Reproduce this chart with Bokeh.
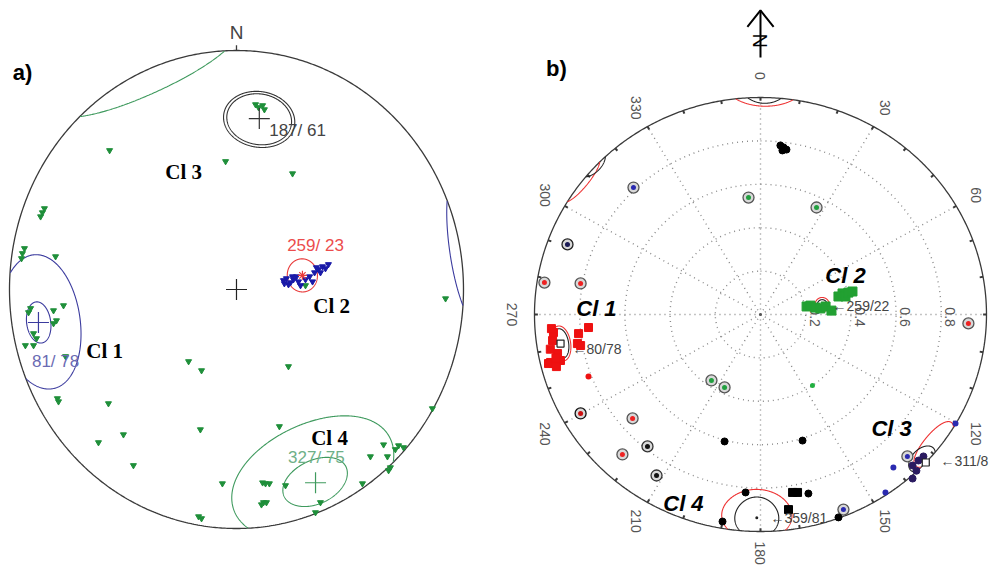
import numpy as np
from bokeh.plotting import figure
from bokeh.layouts import row
from bokeh.models import Range1d
from bokeh.core.properties import value
from bokeh.embed import file_html
from bokeh.resources import INLINE

# ================= DATA : net a) (equal-area, lower hemisphere, unit net coords) =================
a_pole_x = [-0.559, -0.048, 0.247, -0.855, -0.846, -0.863, -0.943, -0.934, -0.947, -0.797,
            0.097, 0.115, 0.084, 0.123,
            -0.907, -0.806, -0.762, -0.806, -0.894, -0.930, -0.894, -0.753, -0.916, -0.881, -0.793,
            -0.789, -0.784, -0.564, -0.211, -0.154, 0.229, 0.921, 0.863, -0.498, -0.608, -0.159, -0.454, 0.189,
            0.648, 0.714, 0.736, 0.700, 0.590, 0.665, 0.670, 0.678, 0.555, -0.062, 0.128, 0.115, 0.145, 0.216,
            0.119, 0.132, 0.110, 0.370, 0.348, -0.167, -0.154, 0.304]
a_pole_y = [0.582, 0.536, 0.485, 0.322, 0.339, 0.305, 0.151, 0.172, 0.130, 0.138,
            0.762, 0.770, 0.774, 0.753,
            -0.079, -0.088, -0.067, -0.142, -0.184, -0.234, -0.234, -0.280, -0.096, -0.205, -0.130,
            -0.456, -0.469, -0.477, -0.301, -0.339, -0.322, -0.038, -0.498, -0.607, -0.640, -0.586, -0.736, -0.573,
            -0.649, -0.653, -0.661, -0.669, -0.699, -0.699, -0.757, -0.745, -0.812, -0.812, -0.812, -0.808, -0.812, -0.820,
            -0.891, -0.891, -0.900, -0.891, -0.933, -0.950, -0.958, 0.017]
a_blue_x = [0.207, 0.220, 0.238, 0.251, 0.229, 0.264, 0.273, 0.304, 0.322, 0.344,
            0.361, 0.379, 0.392, 0.370, 0.352, 0.405, 0.282, 0.211, 0.247, 0.335]
a_blue_y = [0.038, 0.046, 0.029, 0.042, 0.021, 0.054, 0.033, 0.042, 0.054, 0.071,
            0.084, 0.096, 0.088, 0.071, 0.092, 0.105, 0.017, 0.025, 0.054, 0.033]
# cluster mean poles (trend, plunge) and confidence cone half-angles (deg)
a_cl_names = ["Cl 1", "Cl 2", "Cl 3", "Cl 4"]
a_mean_labels = ["81/ 78", "259/ 23", "187/ 61", "327/ 75"]
a_mean_trend = [261.0, 78.5, 8.0, 156.7]
a_mean_plunge = [12.7, 65.8, 28.6, 13.0]
a_cone_inner = [5.5, 5.5, 10.0, 9.5]
a_cone_outer = [18.0, None, 11.0, 24.0]

# ================= DATA : net b) =================
b_black_x = [0.102, 0.088, 0.115, 0.097, -0.159, -0.066, -0.168, 0.186, 0.212, 0.345]
b_black_y = [0.770, 0.779, 0.760, 0.756, -0.585, -0.820, -0.954, -0.581, -0.825, -0.935]
b_blacksq_x = [0.142, 0.164, 0.124]
b_blacksq_y = [-0.820, -0.820, -0.899]
b_ring_x = [-0.562, 0.367, 0.650, -0.053, 0.248, -0.217, -0.159, -0.854, -0.956, -0.796,
            -0.566, -0.611, 0.920, -0.796, -0.500, -0.460]
b_ring_y = [0.585, -0.899, -0.654, 0.539, 0.493, -0.304, -0.336, 0.323, 0.147, 0.143,
            -0.479, -0.645, -0.041, -0.456, -0.608, -0.742]
b_ring_set = ["blue", "blue", "blue", "green", "green", "green", "green", "navy", "red", "red",
              "red", "red", "red", "darkred", "black", "black"]
b_red_x = [-0.916, -0.761, -0.805, -0.810, -0.796, -0.929, -0.916, -0.938, -0.885, -0.898,
           -0.920, -0.925, -0.903, -0.905, -0.930]
b_red_y = [-0.083, -0.060, -0.088, -0.134, -0.143, -0.221, -0.226, -0.226, -0.212, -0.180,
           -0.120, -0.065, -0.240, -0.200, -0.160]
b_reddot_x = [-0.761]
b_reddot_y = [-0.286]
b_green_x = [0.204, 0.221, 0.243, 0.265, 0.288, 0.314, 0.345, 0.363, 0.376, 0.389, 0.407]
b_green_y = [0.037, 0.041, 0.032, 0.028, 0.037, 0.018, 0.083, 0.097, 0.083, 0.101, 0.106]
b_greendot_x = [0.230]
b_greendot_y = [-0.327]
b_bluedot_x = [0.863, 0.588, 0.553]
b_bluedot_y = [-0.502, -0.705, -0.820]
b_navy_x = [0.721, 0.673, 0.673, 0.699, 0.690]
b_navy_y = [-0.654, -0.696, -0.756, -0.673, -0.720]
b_cl_names = ["Cl 1", "Cl 2", "Cl 3", "Cl 4"]
b_mean_labels = ["\u219080/78", "\u2190259/22", "\u2190311/8", "\u2190359/81"]
b_mean_trend = [261.4, 80.5, 133.0, 181.0]
b_mean_plunge = [11.5, 67.4, 2.5, 7.0]
# cones: (tangential, radial) half-angles
b_cone_black = [(4.3, 3.7), (1.8, 1.8), (4.2, 5.0), (5.9, 10.0)]
b_cone_red = [(5.1, 4.6), (2.6, 2.6), (7.5, 5.5), (9.5, 12.5)]
b_red_trend = [261.4, 80.5, 128.0, 181.0]
b_red_plunge = [11.5, 67.4, 2.5, 8.0]
b_azimuths = list(range(0, 360, 30))
b_rings = [0.2, 0.4, 0.6, 0.8]

# ================= helpers =================
def proj(trend, plunge):
    t = np.radians(np.asarray(trend, float))
    th = np.radians(90.0 - np.asarray(plunge, float))
    r = np.sqrt(2.0) * np.sin(th / 2.0)
    return r * np.sin(t), r * np.cos(t)


def cone(trend, plunge, a_t, a_r, n=500):
    t, p = np.radians(trend), np.radians(plunge)
    v = np.array([np.cos(p) * np.sin(t), np.cos(p) * np.cos(t), np.sin(p)])
    u1 = np.array([np.cos(t), -np.sin(t), 0.0])
    u2 = np.cross(v, u1)
    phi = np.linspace(0, 2 * np.pi, n)
    at, ar = np.radians(a_t), np.radians(a_r)
    rho = at * ar / np.sqrt((ar * np.cos(phi)) ** 2 + (at * np.sin(phi)) ** 2)
    d = (np.outer(np.cos(rho), v) + np.outer(np.sin(rho) * np.cos(phi), u1)
         + np.outer(np.sin(rho) * np.sin(phi), u2))
    flip = d[:, 2] < 0
    d[flip] *= -1
    th = np.arccos(np.clip(d[:, 2], -1, 1))
    r = np.sqrt(2.0) * np.sin(th / 2.0)
    tr = np.arctan2(d[:, 0], d[:, 1])
    x, y = r * np.sin(tr), r * np.cos(tr)
    xs, ys = [], []
    for i in range(n):
        if i > 0 and flip[i] != flip[i - 1]:
            xs.append(np.nan)
            ys.append(np.nan)
        xs.append(x[i])
        ys.append(y[i])
    return np.array(xs), np.array(ys)


def make_fig(w, xr, yr):
    p = figure(width=w, height=566, x_range=Range1d(*xr), y_range=Range1d(*yr),
               output_backend="svg", toolbar_location=None, min_border=0,
               x_axis_location=None, y_axis_location=None)
    p.grid.visible = False
    p.outline_line_color = None
    p.background_fill_color = "white"
    p.border_fill_color = "white"
    return p

SANS = value("Liberation Sans")
SERIF = value("Liberation Serif")
ang = np.linspace(0, 2 * np.pi, 720)

# ================= figure a =================
pa = make_fig(492, (-1.0396, 1.1278), (-1.1590, 1.2092))
pa.line(np.sin(ang), np.cos(ang), line_color="#3a3a3a", line_width=1.3)
pa.segment(x0=[0], y0=[1.0], x1=[0], y1=[1.022], line_color="#3a3a3a", line_width=1.3)
pa.text(x=[0], y=[1.03], text=["N"], text_font=SANS, text_font_size=value("19px"),
        text_color="#444444", text_align="center", text_baseline="bottom")
pa.text(x=[-0.943], y=[0.908], text=["a)"], text_font=SANS, text_font_size=value("22px"),
        text_font_style="bold", text_color="black", text_align="center", text_baseline="middle")

a_cone_colors = ["#3b3b9e", "#e83a3a", "#333333", "#3f9a5e"]
for i in range(4):
    for a in (a_cone_inner[i], a_cone_outer[i]):
        if a is None:
            continue
        cx, cy = cone(a_mean_trend[i], a_mean_plunge[i], a, a)
        pa.line(cx, cy, line_color=a_cone_colors[i], line_width=1.1)

pa.scatter(a_pole_x, a_pole_y, marker="inverted_triangle", size=6,
           fill_color="#1f8f3a", line_color="#1f8f3a")
pa.scatter(a_blue_x, a_blue_y, marker="inverted_triangle", size=6,
           fill_color="#1a1aa8", line_color="#1a1aa8")

mx, my = proj(a_mean_trend, a_mean_plunge)
cross_idx = [0, 2, 3]
pa.scatter([mx[i] for i in cross_idx], [my[i] for i in cross_idx], marker="cross", size=21,
           line_color=[a_cone_colors[i] for i in cross_idx], line_width=1.2)
pa.scatter([mx[1]], [my[1]], marker="asterisk", size=9, line_color="#e83a3a", line_width=1.2)
pa.scatter([0], [0], marker="cross", size=21, line_color="#222222", line_width=1.2)

a_mean_lab_x = [-0.797, 0.348, 0.269, 0.352]
a_mean_lab_y = [-0.301, 0.184, 0.665, -0.703]
pa.text(x=a_mean_lab_x, y=a_mean_lab_y, text=a_mean_labels, text_font=SANS,
        text_font_size=value("17px"), text_color=["#6b6bb3", "#ec4c4c", "#444444", "#6fb088"],
        text_align="center", text_baseline="middle")
a_cl_x = [-0.581, 0.419, -0.233, 0.410]
a_cl_y = [-0.259, -0.071, 0.490, -0.623]
pa.text(x=a_cl_x, y=a_cl_y, text=a_cl_names, text_font=SERIF, text_font_size=value("21px"),
        text_font_style="bold", text_color="black", text_align="center", text_baseline="middle")

# ================= figure b =================
xb0, xb1 = -1.1858, 1.0266
pb = make_fig(500, (xb0, xb1), (-1.1613, 1.4470))
grid_col = "#8a8a8a"
for r in b_rings:
    pb.line(r * np.sin(ang), r * np.cos(ang), line_color=grid_col, line_width=1.4, line_dash="1 4")
az = np.radians(b_azimuths)
pb.segment(x0=np.zeros(len(az)), y0=np.zeros(len(az)), x1=np.sin(az), y1=np.cos(az),
           line_color=grid_col, line_width=1.4, line_dash="1 4")
pb.line(np.sin(ang), np.cos(ang), line_color="#3a3a3a", line_width=1.3)
tk = np.radians(np.arange(0, 360, 10))
pb.segment(x0=np.sin(tk), y0=np.cos(tk), x1=0.985 * np.sin(tk), y1=0.985 * np.cos(tk),
           line_color="#3a3a3a", line_width=2)
pb.scatter([0], [0], marker="circle", size=3, fill_color="#555555", line_color=None)

# azimuth labels (those that fall inside the panel)
lab_r = 1.10
lx, ly = lab_r * np.sin(az), lab_r * np.cos(az)
keep = lx < xb1 - 0.02
pb.text(x=lx[keep], y=ly[keep], text=[str(a) for a, k in zip(b_azimuths, keep) if k],
        angle=-np.pi / 2, text_font=SANS, text_font_size=value("14px"), text_color="#555555",
        text_align="center", text_baseline="middle")
pb.text(x=[r + 0.04 for r in b_rings], y=[-0.012] * len(b_rings), text=[str(r) for r in b_rings],
        angle=-np.pi / 2, text_font=SANS, text_font_size=value("14px"), text_color="#555555",
        text_align="center", text_baseline="middle")

# north arrow
pb.segment(x0=[0], y0=[1.184], x1=[0], y1=[1.401], line_color="black", line_width=2)
pb.line([-0.058, 0, 0.058], [1.325, 1.401, 1.325], line_color="black", line_width=2)
pb.text(x=[0], y=[1.262], text=["N"], angle=-np.pi / 2, text_font=SANS,
        text_font_size=value("20px"), text_color="black", text_align="center", text_baseline="middle")
pb.text(x=[-0.903], y=[1.134], text=["b)"], text_font=SANS, text_font_size=value("22px"),
        text_font_style="bold", text_color="black", text_align="center", text_baseline="middle")

# cones
for i in range(4):
    cx, cy = cone(b_red_trend[i], b_red_plunge[i], *b_cone_red[i])
    pb.line(cx, cy, line_color="#ee3333", line_width=1.1)
    cx, cy = cone(b_mean_trend[i], b_mean_plunge[i], *b_cone_black[i])
    pb.line(cx, cy, line_color="#222222", line_width=1.1)

# data points
ring_fill = {"blue": "#2a2ab0", "green": "#22a040", "navy": "#1a1a55", "red": "#ee2222",
             "darkred": "#cc1111", "black": "#111111"}
ring_line = {"blue": "#555555", "green": "#555555", "navy": "#222222", "red": "#555555",
             "darkred": "#111111", "black": "#333333"}
pb.scatter(b_ring_x, b_ring_y, marker="circle", size=11, fill_color="#d8d8d8",
           line_color=[ring_line[s] for s in b_ring_set], line_width=1.3)
pb.scatter(b_ring_x, b_ring_y, marker="circle", size=5,
           fill_color=[ring_fill[s] for s in b_ring_set], line_color=None)
pb.scatter(b_red_x, b_red_y, marker="square", size=8, fill_color="#ee1111", line_color="#ee1111")
pb.scatter(b_reddot_x, b_reddot_y, marker="circle", size=6, fill_color="#ee1111", line_color=None)
pb.scatter(b_green_x, b_green_y, marker="square", size=9, fill_color="#22a032", line_color="#22a032")
pb.scatter(b_greendot_x, b_greendot_y, marker="circle", size=5, fill_color="#22b040", line_color=None)
pb.scatter(b_black_x, b_black_y, marker="circle", size=7, fill_color="black", line_color="black")
pb.scatter(b_blacksq_x, b_blacksq_y, marker="square", size=8, fill_color="black", line_color="black")
pb.scatter(b_bluedot_x, b_bluedot_y, marker="circle", size=6, fill_color="#2a2ab0", line_color=None)
pb.scatter(b_navy_x, b_navy_y, marker="circle", size=7, fill_color="#2a1a60", line_color="#2a1a60")

# cluster mean markers
bx, by = proj(b_mean_trend, b_mean_plunge)
sq_x, sq_y = proj([b_mean_trend[0], 133.0], [b_mean_plunge[0], 0.0])
pb.scatter(sq_x, sq_y, marker="square", size=7, fill_color="white", line_color="#222222", line_width=1.2)
pb.scatter([bx[3]], [by[3]], marker="circle", size=3, fill_color="#222222", line_color=None)

b_mean_lab_x = [-0.832, 0.319, 0.796, 0.044]
b_mean_lab_y = [-0.157, 0.041, -0.677, -0.940]
pb.text(x=b_mean_lab_x, y=b_mean_lab_y, text=b_mean_labels, text_font=SANS,
        text_font_size=value("14px"), text_color="#444444", text_align="left", text_baseline="middle")
b_cl_x = [-0.726, 0.376, 0.580, -0.341]
b_cl_y = [0.028, 0.180, -0.525, -0.871]
pb.text(x=b_cl_x, y=b_cl_y, text=b_cl_names, text_font=SANS, text_font_size=value("22px"),
        text_font_style="bold italic", text_color="black", text_align="center", text_baseline="middle")

layout = row(pa, pb)
open("out.html", "w").write(file_html(layout, INLINE))
